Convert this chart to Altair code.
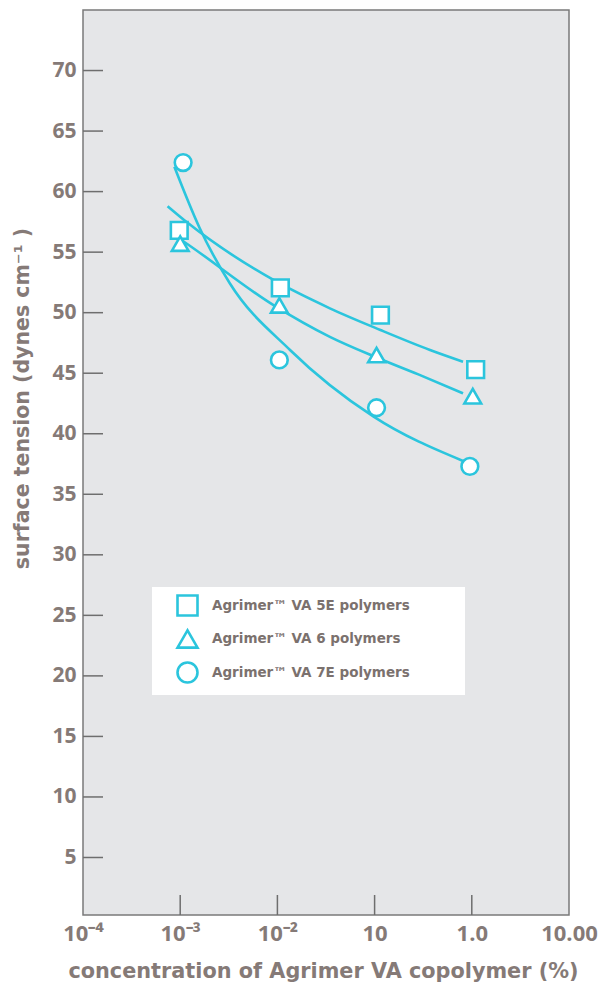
import altair as alt
import pandas as pd

# ---- data ----
series_names = ["Agrimer™ VA 5E polymers", "Agrimer™ VA 6 polymers", "Agrimer™ VA 7E polymers"]
x_tick_labels = ["10⁻⁴", "10⁻³", "10⁻²", "10", "1.0", "10.00"]
x_tick_pos = [0, 1, 2, 3, 4, 5]
y_ticks = [5, 10, 15, 20, 25, 30, 35, 40, 45, 50, 55, 60, 65, 70]

sq_x = [0.99, 2.03, 3.06, 4.04]
sq_y = [56.8, 52.05, 49.8, 45.3]
tri_x = [1.0, 2.02, 3.02, 4.01]
tri_y = [55.7, 50.6, 46.5, 43.1]
cir_x = [1.03, 2.02, 3.02, 3.98]
cir_y = [62.4, 46.1, 42.15, 37.3]

# fitted curves
sq_cx = [0.87, 1.08, 1.96, 2.54, 3.06, 3.57, 3.91]
sq_cy = [58.8, 57.4, 52.7, 50.36, 48.57, 46.92, 45.95]
tri_cx = [0.92, 1.05, 1.96, 2.54, 3.02, 3.45, 3.91]
tri_cy = [56.5, 55.8, 50.62, 48.0, 46.3, 44.9, 43.34]
cir_cx = [0.94, 1.2, 1.51, 2.13, 2.99, 3.91]
cir_cy = [62.06, 57.0, 52.43, 46.92, 41.41, 37.75]

CYAN = "#2bc5dd"
TXT = "#857a77"
FONT = "Open Sans"
TFONT = "DejaVu Sans"

pts = pd.DataFrame({
    "x": sq_x + tri_x + cir_x,
    "y": sq_y + tri_y + cir_y,
    "series": [series_names[0]] * 4 + [series_names[1]] * 4 + [series_names[2]] * 4,
})
curves = pd.DataFrame({
    "x": sq_cx + tri_cx + cir_cx,
    "y": sq_cy + tri_cy + cir_cy,
    "series": [series_names[0]] * len(sq_cx) + [series_names[1]] * len(tri_cx) + [series_names[2]] * len(cir_cx),
})
ytick_df = pd.DataFrame({"v": y_ticks})
xtick_df = pd.DataFrame({"v": x_tick_pos[1:5]})

W, H = 486, 905
xscale = alt.Scale(domain=[0, 5], nice=False, zero=False)
yscale = alt.Scale(domain=[0.25, 75], nice=False, zero=False)

label_expr = "[" + ",".join("'" + s + "'" for s in x_tick_labels) + "][datum.value]"

xaxis = alt.Axis(
    values=x_tick_pos, labelExpr=label_expr, ticks=False, domain=False, grid=False,
    labelFont=FONT, labelFontSize=22, labelFontWeight="bold", labelColor=TXT,
    labelPadding=8, labelFlush=False, labelOverlap=False,
    title="concentration of Agrimer VA copolymer (%)",
    titleFont=TFONT, titleFontSize=20.8, titleFontWeight="bold", titleColor=TXT,
    titleX=240, titleY=56, titleBaseline="middle", titleAlign="center",
)
yaxis = alt.Axis(
    values=y_ticks, ticks=False, domain=False, grid=False,
    labelFont=FONT, labelFontSize=21, labelFontWeight="bold", labelColor=TXT,
    labelPadding=7,
    title="surface tension (dynes cm⁻¹ )",
    titleFont=TFONT, titleFontSize=20.5, titleFontWeight="bold", titleColor=TXT,
    titleX=-61, titleY=388, titleAngle=-90, titleBaseline="middle", titleAlign="center",
)

lines = alt.Chart(curves).mark_line(
    interpolate="monotone", strokeWidth=2.6, color=CYAN
).encode(
    x=alt.X("x:Q", scale=xscale, axis=xaxis),
    y=alt.Y("y:Q", scale=yscale, axis=yaxis),
    detail="series:N",
)

points = alt.Chart(pts).mark_point(
    filled=False, color=CYAN, fill="white", fillOpacity=1,
    strokeWidth=2.6, size=280, opacity=1
).encode(
    x=alt.X("x:Q", scale=xscale),
    y=alt.Y("y:Q", scale=yscale),
    shape=alt.Shape(
        "series:N",
        scale=alt.Scale(domain=series_names, range=["square", "triangle-up", "circle"]),
        legend=alt.Legend(
            title=None, orient="none", legendX=69, legendY=577,
            padding=7, fillColor="white",
            symbolSize=400, symbolStrokeWidth=2.6, symbolOffset=17,
            labelFont=TFONT, labelFontSize=13.5, labelFontWeight="bold", labelColor="#7b716e",
            labelOffset=13, rowPadding=3.5, labelLimit=400,
            labelExpr="datum.label + '\u2003\u2003\u2003\u2002\u200b'",
        ),
    ),
)

yticks = alt.Chart(ytick_df).mark_rule(color="#6e6e6e", strokeWidth=1.5).encode(
    y=alt.Y("v:Q", scale=yscale), x=alt.value(0), x2=alt.value(20)
)
xticks = alt.Chart(xtick_df).mark_rule(color="#6e6e6e", strokeWidth=1.5).encode(
    x=alt.X("v:Q", scale=xscale), y=alt.value(H), y2=alt.value(H - 20)
)

chart = alt.layer(lines, yticks, xticks, points).properties(
    width=W, height=H,
    autosize=alt.AutoSizeParams(type="none"),
    padding={"left": 75, "top": 2, "right": 31, "bottom": 67},
    background="white",
).configure_view(
    fill="#e5e6e8", stroke="#7a7a7a", strokeWidth=1.5
)

chart.save("out.html", embed_options={"renderer": "svg", "actions": False})
